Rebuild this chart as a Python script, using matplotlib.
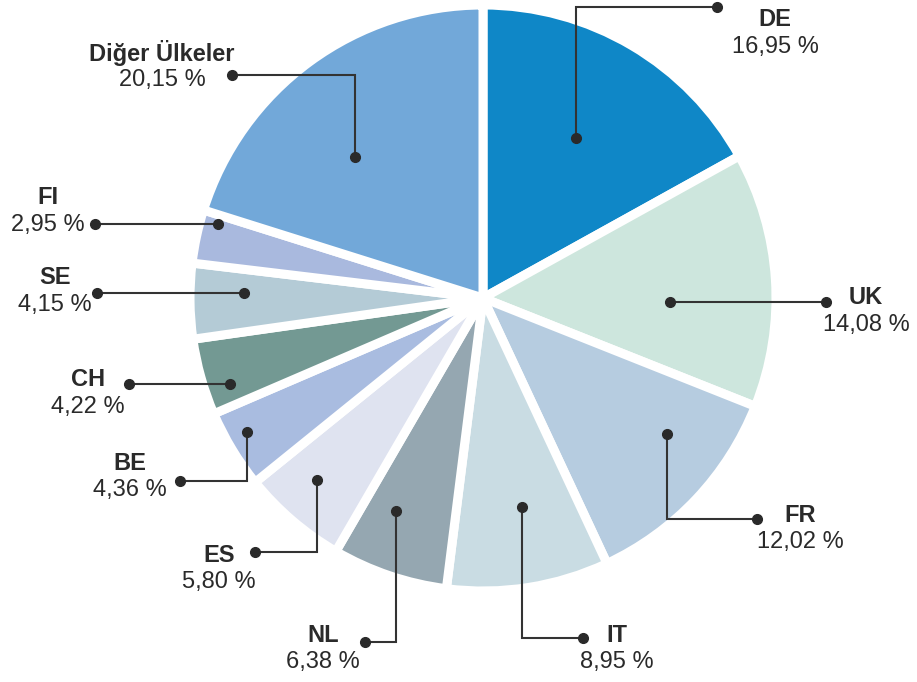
import numpy as np
import matplotlib.pyplot as plt

plt.rcParams["font.family"] = ["Liberation Sans", "DejaVu Sans"]

countries = ["DE", "UK", "FR", "IT", "NL", "ES", "BE", "CH", "SE", "FI", "Diğer Ülkeler"]
shares = [16.95, 14.08, 12.02, 8.95, 6.38, 5.80, 4.36, 4.22, 4.15, 2.95, 20.15]
colors = ["#0f87c7", "#cde6dd", "#b6cce0", "#c9dce3", "#95a7b1", "#dfe3f0",
          "#a9bce0", "#739993", "#b4cbd6", "#a9b9de", "#72a8d9"]

# label layout (pixel coords of the figure, y down)
# anchor inside wedge: (fraction of wedge sweep, fraction of radius)
anchor_pos = [(0.495, 0.63), (0.596, 0.64), (0.34, 0.78), (0.445, 0.725), (0.66, 0.785),
              (0.59, 0.84), (0.60, 0.925), (0.30, 0.91), (0.62, 0.815), (0.83, 0.94), (0.42, 0.65)]
# end dot of the leader line, and "h" = straight, "v" = vertical then horizontal
end_pos = [(717, 7), (826, None), (757, 519), (583, 638), (365, 642), (255, 552),
           (180, 481), (129, None), (97, None), (95, None), (232, 75)]
styles = ["v", "h", "v", "v", "v", "v", "v", "h", "h", "h", "v"]
text_pos = [(775, 20), (866, 298), (800, 515), (617, 635), (323, 635), (219, 555),
            (130, 463), (88, 380), (55, 278), (48, 198), (162, 53)]

W, H = 917, 682
cx, cy, R = 483, 298, 293

fig = plt.figure(figsize=(W / 100, H / 100), dpi=100)
ax = fig.add_axes([0, 0, 1, 1])
ax.set_xlim(0, W)
ax.set_ylim(0, H)
ax.set_aspect("equal")
ax.axis("off")

wedges, _ = ax.pie(shares, colors=colors, startangle=90, counterclock=False,
                   center=(cx, H - cy), radius=R,
                   wedgeprops=dict(edgecolor="white", linewidth=6.5, joinstyle="round"))
ax.set_xlim(0, W)
ax.set_ylim(0, H)

ink = "#2a2a2a"
for w, (af, rf), (ex, ey), st, (tx, ty), name, val in zip(
        wedges, anchor_pos, end_pos, styles, text_pos, countries, shares):
    t1, t2 = w.theta1, w.theta2
    ang = np.radians(t2 - af * (t2 - t1))
    axp = cx + rf * R * np.cos(ang)
    ayp = H - cy + rf * R * np.sin(ang)
    if st == "h":
        xs, ys = [axp, ex], [ayp, ayp]
    else:
        xs, ys = [axp, axp, ex], [ayp, H - ey, H - ey]
    ax.plot(xs, ys, color="#333333", lw=1.5, solid_joinstyle="miter", zorder=5)
    ax.plot([xs[0], xs[-1]], [ys[0], ys[-1]], "o", color=ink, ms=7, zorder=6, lw=0)
    ax.text(tx, H - ty, name, ha="center", va="center", fontsize=17,
            fontweight="bold", color=ink)
    ax.text(tx, H - ty - 27, f"{val:.2f} %".replace(".", ","), ha="center",
            va="center", fontsize=17, color=ink)

fig.savefig("out.png", dpi=100)
plt.close(fig)
